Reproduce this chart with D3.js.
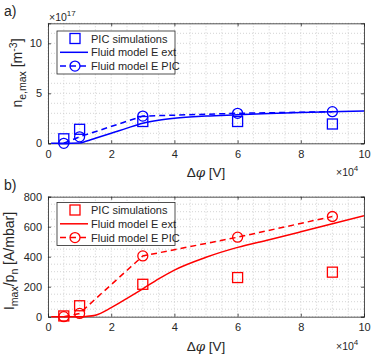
<html>
<head>
<meta charset="utf-8">
<script src="https://cdn.jsdelivr.net/npm/d3@7"></script>
<style>
body { margin:0; background:#fff; }
text { font-family: "Liberation Sans", Arial, sans-serif; fill:#262626; }
</style>
</head>
<body>
<div id="chart"></div>
<script>

// x positions (V) of the PIC runs
var dphi = [5000, 10000, 30000, 60000, 90000]

// panel a: n_e,max [m^-3]
var nePIC = [0.45e17, 1.4e17, 2.18e17, 2.18e17, 1.93e17]
var neFluidPIC = [0.0, 0.65e17, 2.72e17, 3.0e17, 3.16e17]
var neExtX = [1000, 5000, 10000, 12000, 15000, 20000, 25000, 30000, 35000, 40000, 50000, 60000, 70000, 80000, 90000, 100000]
var neExtY = [0, 0, 0.02e17, 0.2e17, 0.5e17, 1.0e17, 1.52e17, 2.0e17, 2.3e17, 2.5e17, 2.72e17, 2.85e17, 2.98e17, 3.08e17, 3.16e17, 3.23e17]

// panel b: I_max/p_n [A/mbar]
var iPIC = [5, 73, 216, 261, 297]
var iFluidPIC = [0, 22, 405, 530, 668]
var iExtX = [1000, 5000, 10000, 12000, 15000, 20000, 25000, 30000, 35000, 40000, 50000, 60000, 70000, 80000, 90000, 100000]
var iExtY = [0, 0, 0, 2, 10, 60, 122, 186, 252, 311, 396, 462, 513, 566, 620, 673]

var xTicks = [0, 20000, 40000, 60000, 80000, 100000]
var legendNames = ["PIC simulations", "Fluid model E ext", "Fluid model E PIC"]

var W = 374, H = 354
var svg = d3.select("#chart").append("svg").attr("width", W).attr("height", H)

function panel(cfg){
	var g = svg.append("g")
	var x = d3.scaleLinear().domain([0, 100000]).range([48, 364])
	var y = d3.scaleLinear().domain(cfg.ydom).range([cfg.bottom, cfg.top])

	// dotted grid (major + minor)
	var xg = d3.range(0, 100001, 5000)
	var yg = d3.range(cfg.ydom[0], cfg.ydom[1] + 1e-9 * cfg.ydom[1], cfg.minor)
	g.append("g").selectAll("line").data(xg).enter().append("line")
		.attr("x1", d => x(d)).attr("x2", d => x(d)).attr("y1", cfg.top).attr("y2", cfg.bottom)
		.attr("stroke", "#c8c8c8").attr("stroke-width", 0.8).attr("stroke-dasharray", "1,2")
	g.append("g").selectAll("line").data(yg).enter().append("line")
		.attr("y1", d => y(d)).attr("y2", d => y(d)).attr("x1", 48).attr("x2", 364)
		.attr("stroke", "#c8c8c8").attr("stroke-width", 0.8).attr("stroke-dasharray", "1,2")

	// axes with inward ticks, box on
	g.append("g").attr("transform", "translate(0," + cfg.bottom + ")")
		.call(d3.axisBottom(x).tickValues(xTicks).tickSize(-3).tickPadding(7).tickFormat(d => d / 10000))
	g.append("g").attr("transform", "translate(0," + cfg.top + ")")
		.call(d3.axisTop(x).tickValues(xTicks).tickSize(-3).tickFormat(""))
	g.append("g").attr("transform", "translate(48,0)")
		.call(d3.axisLeft(y).tickValues(cfg.yticks).tickSize(-3).tickPadding(6).tickFormat(cfg.yfmt))
	g.append("g").attr("transform", "translate(364,0)")
		.call(d3.axisRight(y).tickValues(cfg.yticks).tickSize(-3).tickFormat(""))
	g.selectAll(".domain").attr("stroke", "#262626").attr("stroke-width", 0.8)
	g.selectAll(".tick line").attr("stroke", "#262626").attr("stroke-width", 0.8)
	g.selectAll(".tick text").attr("font-size", 11).attr("fill", "#262626")
		.style("font-family", "Liberation Sans, Arial, sans-serif")

	var clip = "clip" + cfg.id
	g.append("clipPath").attr("id", clip).append("rect")
		.attr("x", 48).attr("y", cfg.top).attr("width", 316).attr("height", cfg.bottom - cfg.top + 6)

	var line = d3.line().x(d => x(d[0])).y(d => y(d[1]))
	var smooth = d3.line().x(d => x(d[0])).y(d => y(d[1])).curve(d3.curveMonotoneX)
	var data = g.append("g").attr("clip-path", "url(#" + clip + ")")
	data.append("path").datum(d3.zip(cfg.extX, cfg.extY)).attr("d", smooth)
		.attr("fill", "none").attr("stroke", cfg.color).attr("stroke-width", 1.5)
	data.append("path").datum(d3.zip(dphi, cfg.fluid)).attr("d", line)
		.attr("fill", "none").attr("stroke", cfg.color).attr("stroke-width", 1.5).attr("stroke-dasharray", "6,4")
	data.selectAll("circle").data(d3.zip(dphi, cfg.fluid)).enter().append("circle")
		.attr("cx", d => x(d[0])).attr("cy", d => y(d[1])).attr("r", 5)
		.attr("fill", "none").attr("stroke", cfg.color).attr("stroke-width", 1.3)
	data.selectAll("rect.sq").data(d3.zip(dphi, cfg.pic)).enter().append("rect").attr("class", "sq")
		.attr("x", d => x(d[0]) - 5).attr("y", d => y(d[1]) - 5).attr("width", 10).attr("height", 10)
		.attr("fill", "none").attr("stroke", cfg.color).attr("stroke-width", 1.3)

	// legend
	var lg = g.append("g").attr("transform", "translate(57," + cfg.legTop + ")")
	lg.append("rect").attr("x", 0).attr("y", 0).attr("width", 118).attr("height", 43)
		.attr("fill", "#fff").attr("stroke", "#262626").attr("stroke-width", 0.8)
	legendNames.forEach(function(n, i){
		var yy = 7.5 + i * 13.8
		if(i == 0){
			lg.append("rect").attr("x", 13).attr("y", yy - 5).attr("width", 10).attr("height", 10)
				.attr("fill", "none").attr("stroke", cfg.color).attr("stroke-width", 1.3)
		} else {
			lg.append("line").attr("x1", 3).attr("x2", 31).attr("y1", yy).attr("y2", yy)
				.attr("stroke", cfg.color).attr("stroke-width", 1.5).attr("stroke-dasharray", i == 2 ? "6,4" : null)
		}
		if(i == 2){
			lg.append("circle").attr("cx", 18).attr("cy", yy).attr("r", 5)
				.attr("fill", "none").attr("stroke", cfg.color).attr("stroke-width", 1.3)
		}
		lg.append("text").attr("x", 34).attr("y", yy + 4).attr("font-size", 11).text(n)
	})

	// labels
	g.append("text").attr("x", 4).attr("y", cfg.top - 7).attr("font-size", 14).text(cfg.letter)
	var xl = g.append("text").attr("x", 206).attr("y", cfg.bottom + 34).attr("text-anchor", "middle").attr("font-size", 13.5)
	xl.append("tspan").text("Δ")
	xl.append("tspan").attr("font-style", "italic").style("font-family", "DejaVu Serif, serif").text("φ")
	xl.append("tspan").text(" [V]")
	var e4 = g.append("text").attr("x", 336).attr("y", cfg.bottom + 33).attr("font-size", 10.5)
	e4.append("tspan").text("×10")
	e4.append("tspan").attr("dy", -5).attr("font-size", 8).text("4")

	var yl = g.append("text").attr("transform", "translate(" + cfg.ylx + "," + cfg.yly + ") rotate(-90)")
		.attr("text-anchor", "middle").attr("font-size", 14)
	cfg.ylab(yl)
}

panel({
	id: "a", letter: "a)", color: "#0000ff", top: 23.3, bottom: 143.3, legTop: 31,
	ydom: [0, 12e17], minor: 1e17, yticks: [0, 5e17, 10e17], yfmt: d => d / 1e17,
	pic: nePIC, fluid: neFluidPIC, extX: neExtX, extY: neExtY, ylx: 22, yly: 73,
	ylab: function(t){
		t.append("tspan").text("n")
		t.append("tspan").attr("dy", 4).attr("font-size", 10.5).text("e,max")
		t.append("tspan").attr("dy", -4).text(" [m")
		t.append("tspan").attr("dy", -5.5).attr("font-size", 10.5).text("-3")
		t.append("tspan").attr("dy", 5.5).text("]")
	}
})
svg.append("text").attr("x", 49).attr("y", 20.5).attr("font-size", 10.5)
	.call(function(t){
		t.append("tspan").text("×10")
		t.append("tspan").attr("dy", -5).attr("font-size", 8).text("17")
	})

panel({
	id: "b", letter: "b)", color: "#ff0000", top: 196.7, bottom: 316.7, legTop: 202.5,
	ydom: [0, 800], minor: 50, yticks: [0, 200, 400, 600, 800], yfmt: d => d,
	pic: iPIC, fluid: iFluidPIC, extX: iExtX, extY: iExtY, ylx: 14, yly: 261,
	ylab: function(t){
		t.append("tspan").text("I")
		t.append("tspan").attr("dy", 4).attr("font-size", 10.5).text("max")
		t.append("tspan").attr("dy", -4).text("/p")
		t.append("tspan").attr("dy", 4).attr("font-size", 10.5).text("n")
		t.append("tspan").attr("dy", -4).text(" [A/mbar]")
	}
})

</script>
</body>
</html>
